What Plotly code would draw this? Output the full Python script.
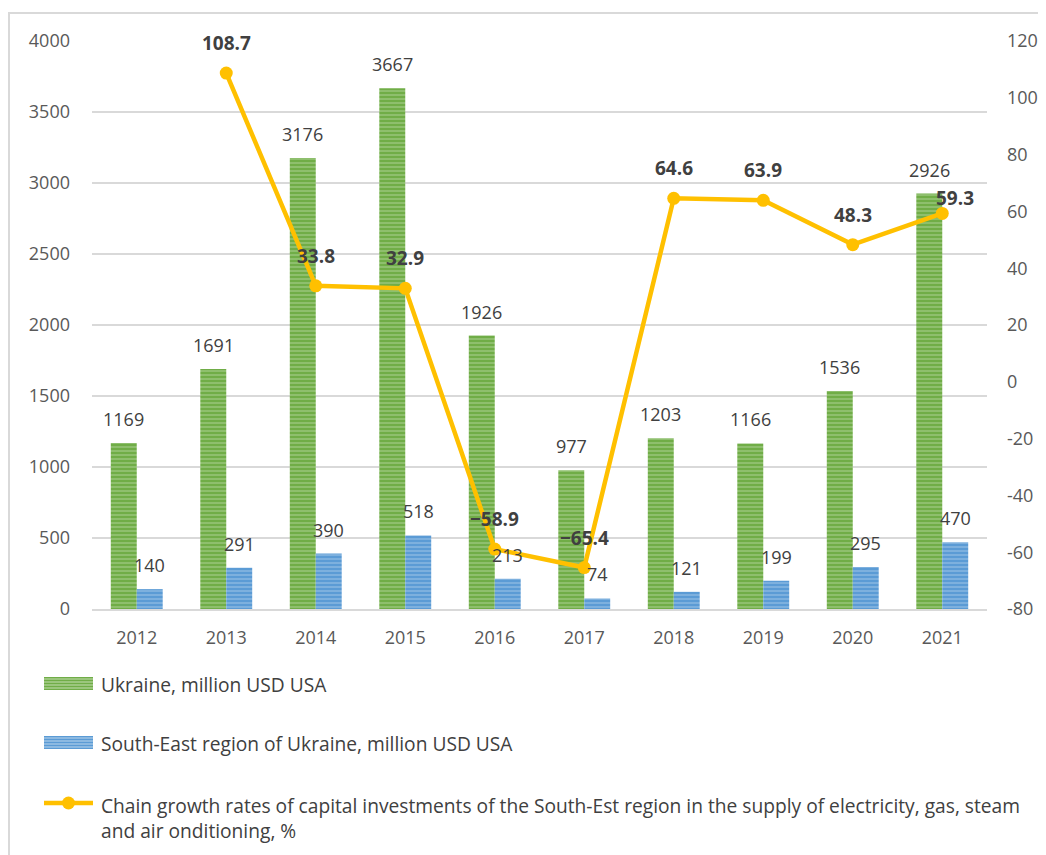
import plotly.graph_objects as go

years = ["2012", "2013", "2014", "2015", "2016", "2017", "2018", "2019", "2020", "2021"]
ukraine = [1169, 1691, 3176, 3667, 1926, 977, 1203, 1166, 1536, 2926]
south_east = [140, 291, 390, 518, 213, 74, 121, 199, 295, 470]
growth_years = ["2013", "2014", "2015", "2016", "2017", "2018", "2019", "2020", "2021"]
growth = [108.7, 33.8, 32.9, -58.9, -65.4, 64.6, 63.9, 48.3, 59.3]
growth_labels = ["108.7", "33.8", "32.9", "−58.9", "−65.4", "64.6", "63.9", "48.3", "59.3"]
right_ticks = [-80, -60, -40, -20, 0, 20, 40, 60, 80, 100, 120]
right_ticktext = ["-80", "-60", "-40", "-20", "0", "20", "40", "60", "80", "100", "120"]

name_uk = "Ukraine, million USD USA"
name_se = "South-East region of Ukraine, million USD USA"
name_gr = ("Chain growth rates of capital investments of the South-Est region in the supply of electricity, gas, steam"
           "<br>and air onditioning, %")

FONT = "Open Sans, Liberation Sans, sans-serif"
TXT = "#404040"
TICK = "#595959"
GREEN, GREEN_L = "#70AD47", "#C5E0B4"
BLUE, BLUE_L = "#5B9BD5", "#BDD7EE"
GOLD = "#FFC000"

OFF = 8  # page body margin
W, H = 1046 - OFF, 855 - OFF
PL, PR, PT, PB = 92, 987, 41, 609  # plot area in window pixels
L, T = PL - OFF, PT - OFF
R, B = W - (PR - OFF), H - (PB - OFF)
pw, ph = PR - PL, PB - PT
BARGAP = 0.42
half_bar = pw / len(years) * (1 - BARGAP) / 4  # half width of one bar in px


def px(xp):
    return (xp - PL) / pw


def py(yp):
    return (PB - yp) / ph


fig = go.Figure()
fig.add_trace(go.Bar(
    x=years, y=ukraine, name=name_uk, showlegend=False,
    marker=dict(color=GREEN, line=dict(width=0),
                pattern=dict(shape="-", fgcolor=GREEN_L, size=4, solidity=0.35)),
))
fig.add_trace(go.Bar(
    x=years, y=south_east, name=name_se, showlegend=False,
    marker=dict(color=BLUE, line=dict(width=0),
                pattern=dict(shape="-", fgcolor=BLUE_L, size=4, solidity=0.35)),
))
fig.add_trace(go.Scatter(
    x=growth_years, y=growth, name=name_gr, showlegend=False, yaxis="y2",
    mode="lines+markers",
    line=dict(color=GOLD, width=4.5),
    marker=dict(color=GOLD, size=13),
    cliponaxis=False,
))

annotations = []
# bar value labels (category index positions on the category axis)
for yr, v in zip(years, ukraine):
    annotations.append(dict(x=years.index(yr), y=v, xref="x", yref="y", text=str(v), showarrow=False,
                            xshift=-half_bar, yshift=24, font=dict(size=18, color=TXT, family=FONT)))
for yr, v in zip(years, south_east):
    annotations.append(dict(x=years.index(yr), y=v, xref="x", yref="y", text=str(v), showarrow=False,
                            xshift=half_bar, yshift=24, font=dict(size=18, color=TXT, family=FONT)))
# line value labels
line_shift = [(0, 30)] * (len(growth) - 1) + [(13, 15)]
for yr, v, t, (dx, dy) in zip(growth_years, growth, growth_labels, line_shift):
    annotations.append(dict(x=years.index(yr), y=v, xref="x", yref="y2", text="<b>%s</b>" % t,
                            showarrow=False, xshift=dx, yshift=dy,
                            font=dict(size=19, color=TXT, family=FONT)))

# frame and custom legend
shapes = [dict(type="rect", xref="paper", yref="paper",
               x0=px(9), x1=px(1070), y0=py(880), y1=py(13),
               line=dict(color="#D9D9D9", width=2), layer="below")]
leg_x0, leg_x1 = 44, 93
leg_text_x = 99
leg_rows = [684, 743]
for (yc, col, coll, label) in [(leg_rows[0], GREEN, GREEN_L, name_uk), (leg_rows[1], BLUE, BLUE_L, name_se)]:
    shapes.append(dict(type="rect", xref="paper", yref="paper",
                       x0=px(leg_x0), x1=px(leg_x1), y0=py(yc + 6), y1=py(yc - 7),
                       fillcolor=col, line=dict(width=0)))
    for k in range(4):
        ys = yc - 5 + 3 * k
        shapes.append(dict(type="line", xref="paper", yref="paper",
                           x0=px(leg_x0), x1=px(leg_x1), y0=py(ys), y1=py(ys),
                           line=dict(color=coll, width=1.2)))
    annotations.append(dict(x=px(leg_text_x), y=py(yc), xref="paper", yref="paper", text=label,
                            showarrow=False, xanchor="left", yanchor="middle",
                            font=dict(size=19.2, color=TXT, family=FONT)))
line_row = 803
shapes.append(dict(type="line", xref="paper", yref="paper",
                   x0=px(leg_x0), x1=px(leg_x1), y0=py(line_row), y1=py(line_row),
                   line=dict(color=GOLD, width=4.5)))
shapes.append(dict(type="circle", xref="paper", yref="paper",
                   x0=px(62), x1=px(75), y0=py(line_row + 6.5), y1=py(line_row - 6.5),
                   fillcolor=GOLD, line=dict(width=0)))
annotations.append(dict(x=px(leg_text_x), y=py(line_row - 13), xref="paper", yref="paper", text=name_gr,
                        showarrow=False, xanchor="left", yanchor="top", align="left",
                        font=dict(size=19.2, color=TXT, family=FONT)))

fig.update_layout(
    width=W, height=H,
    margin=dict(l=L, r=R, t=T, b=B, autoexpand=False),
    paper_bgcolor="white", plot_bgcolor="white",
    font=dict(family=FONT, size=18, color=TICK),
    barmode="group", bargap=BARGAP, bargroupgap=0,
    showlegend=False,
    xaxis=dict(type="category", categoryorder="array", categoryarray=years,
               range=[-0.5, len(years) - 0.5], autorange=False,
               showgrid=False, showline=True, linecolor="#D9D9D9", linewidth=2,
               ticks="", ticklabelstandoff=11, automargin=False, tickfont=dict(size=18, color=TICK)),
    yaxis=dict(range=[0, 4000], dtick=500, showgrid=True, gridcolor="#D9D9D9", gridwidth=1.5,
               zeroline=False, showline=False, ticks="", ticklabelstandoff=21, automargin=False,
               tickfont=dict(size=18, color=TICK)),
    yaxis2=dict(range=[-80, 120], overlaying="y", side="right", tickvals=right_ticks,
                ticktext=right_ticktext, showgrid=False, zeroline=False, showline=False, ticks="",
                ticklabelstandoff=19, automargin=False, tickfont=dict(size=18, color=TICK)),
    shapes=shapes,
    annotations=annotations,
)

fig.write_html("out.html")
